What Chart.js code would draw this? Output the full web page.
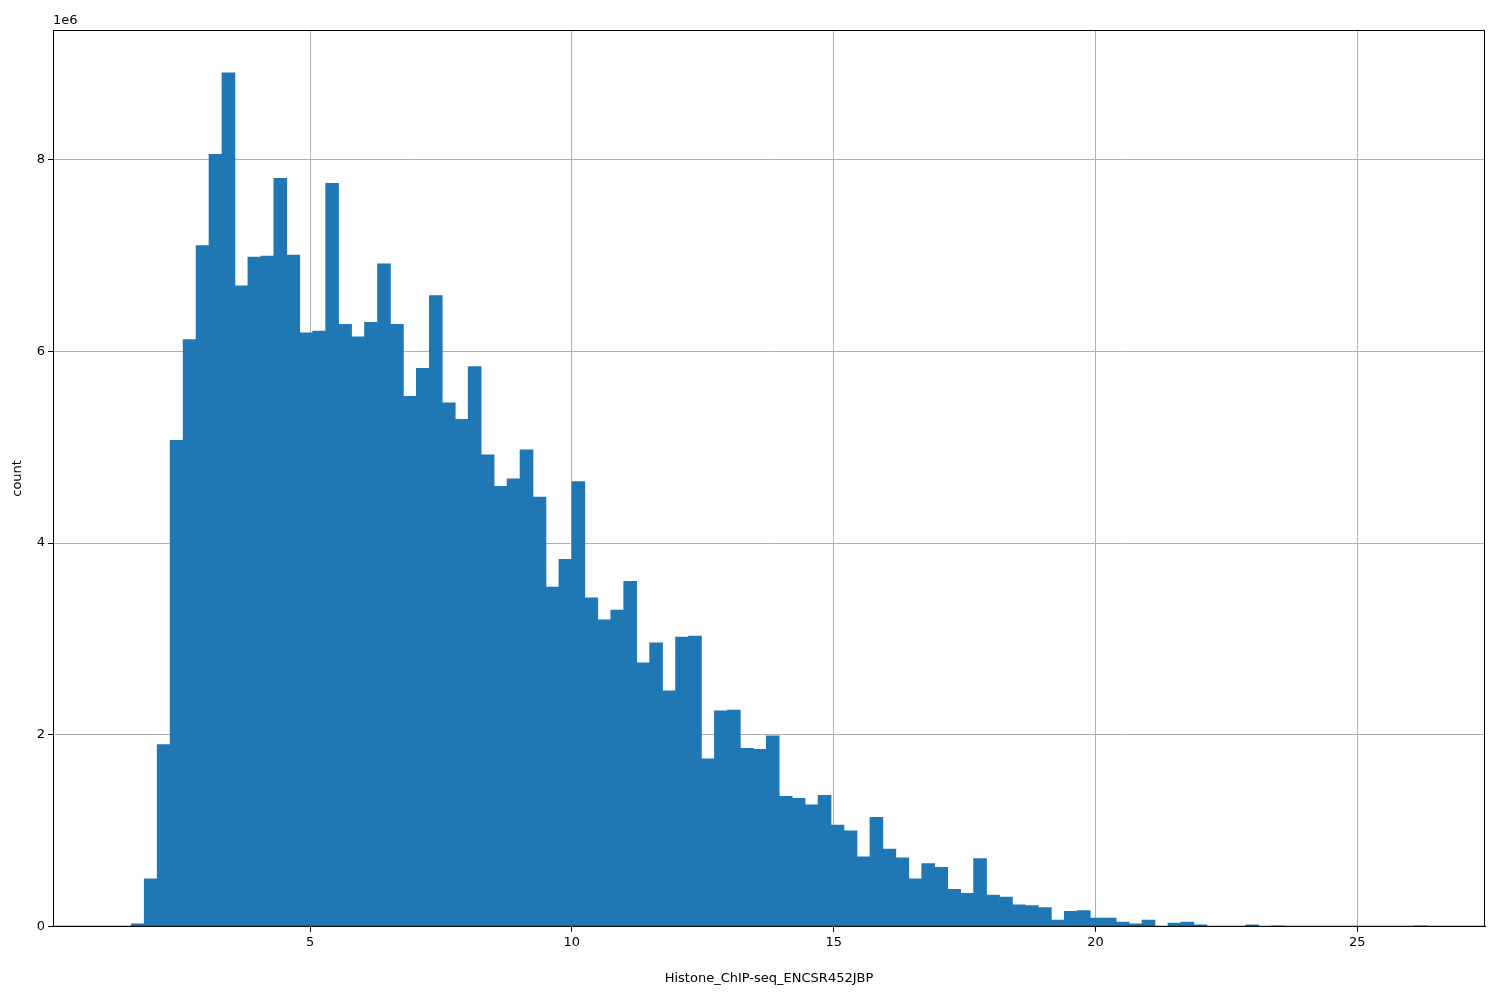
<!DOCTYPE html>
<html><head><meta charset="utf-8">
<script src="https://cdn.jsdelivr.net/npm/chart.js@4/dist/chart.umd.min.js"></script>
<style>html,body{margin:0;padding:0;background:#fff}#wrap{width:1500px;height:1000px}</style>
</head><body><div id="wrap"><canvas id="c" width="1500" height="1000"></canvas></div>
<script>
// histogram: 100 bins, left edge binStart, width binWidth (counts in millions)
const binStart = 1.585;
const binWidth = 0.2475;
const counts = [
  0.03, 0.5, 1.9, 5.07, 6.12, 7.1, 8.05, 8.9, 6.68, 6.98,
  6.99, 7.8, 7.0, 6.19, 6.21, 7.75, 6.28, 6.15, 6.3, 6.91,
  6.28, 5.53, 5.82, 6.58, 5.46, 5.29, 5.84, 4.92, 4.59, 4.67,
  4.97, 4.48, 3.54, 3.83, 4.64, 3.43, 3.2, 3.3, 3.6, 2.75,
  2.96, 2.46, 3.02, 3.03, 1.75, 2.25, 2.26, 1.86, 1.85, 1.99,
  1.36, 1.34, 1.27, 1.37, 1.06, 1.0, 0.73, 1.14, 0.81, 0.72,
  0.5, 0.66, 0.62, 0.39, 0.35, 0.71, 0.33, 0.31, 0.23, 0.22,
  0.2, 0.07, 0.16, 0.17, 0.09, 0.09, 0.05, 0.03, 0.07, 0.0,
  0.04, 0.05, 0.02, 0, 0, 0, 0.02, 0, 0.01, 0,
  0, 0, 0, 0, 0, 0, 0, 0, 0, 0.01
];
const xTicks = [5, 10, 15, 20, 25];
const yTicks = [0, 2e6, 4e6, 6e6, 8e6];

const points = counts.map((v, i) => ({ x: binStart + binWidth * (i + 0.5), y: v * 1e6 }));
const font = { family: 'DejaVu Sans', size: 13 };

const offsetLabel = {
  id: 'offsetLabel',
  afterDraw(chart) {
    const c = chart.ctx, a = chart.chartArea;
    c.save();
    c.font = '13px DejaVu Sans';
    c.fillStyle = '#000';
    c.textBaseline = 'bottom';
    c.fillText('1e6', a.left, a.top - 3);
    c.strokeStyle = '#000';
    c.lineWidth = 1;
    c.strokeRect(a.left + 0.5, a.top + 0.5, a.right - a.left - 1, a.bottom - a.top - 1);
    c.restore();
  }
};

new Chart(document.getElementById('c').getContext('2d'), {
  type: 'bar',
  data: { datasets: [{ data: points, backgroundColor: '#1f77b4', barPercentage: 1, categoryPercentage: 1, borderWidth: 0 }] },
  options: {
    responsive: false,
    animation: false,
    layout: { padding: { top: 30, right: 15, left: 10, bottom: 10 } },
    plugins: { legend: { display: false }, tooltip: { enabled: false } },
    scales: {
      x: {
        type: 'linear', min: 0.09, max: 27.44, z: 1, offset: false,
        afterBuildTicks: s => { s.ticks = xTicks.map(v => ({ value: v })); },
        ticks: { font, color: '#000', maxRotation: 0, callback: v => v },
        grid: { color: '#b0b0b0', tickColor: '#000', tickLength: 5, offset: false },
        border: { color: '#000' },
        title: { display: true, text: 'Histone_ChIP-seq_ENCSR452JBP', font, color: '#000', padding: { top: 17 } }
      },
      y: {
        min: 0, max: 9.347e6, z: 1,
        afterBuildTicks: s => { s.ticks = yTicks.map(v => ({ value: v })); },
        afterFit: s => { s.width = 43; },
        ticks: { font, color: '#000', callback: v => v / 1e6 },
        grid: { color: '#b0b0b0', tickColor: '#000', tickLength: 5 },
        border: { color: '#000' },
        title: { display: true, text: 'count', font, color: '#000', padding: 0 }
      }
    }
  },
  plugins: [offsetLabel]
});
</script></body></html>
